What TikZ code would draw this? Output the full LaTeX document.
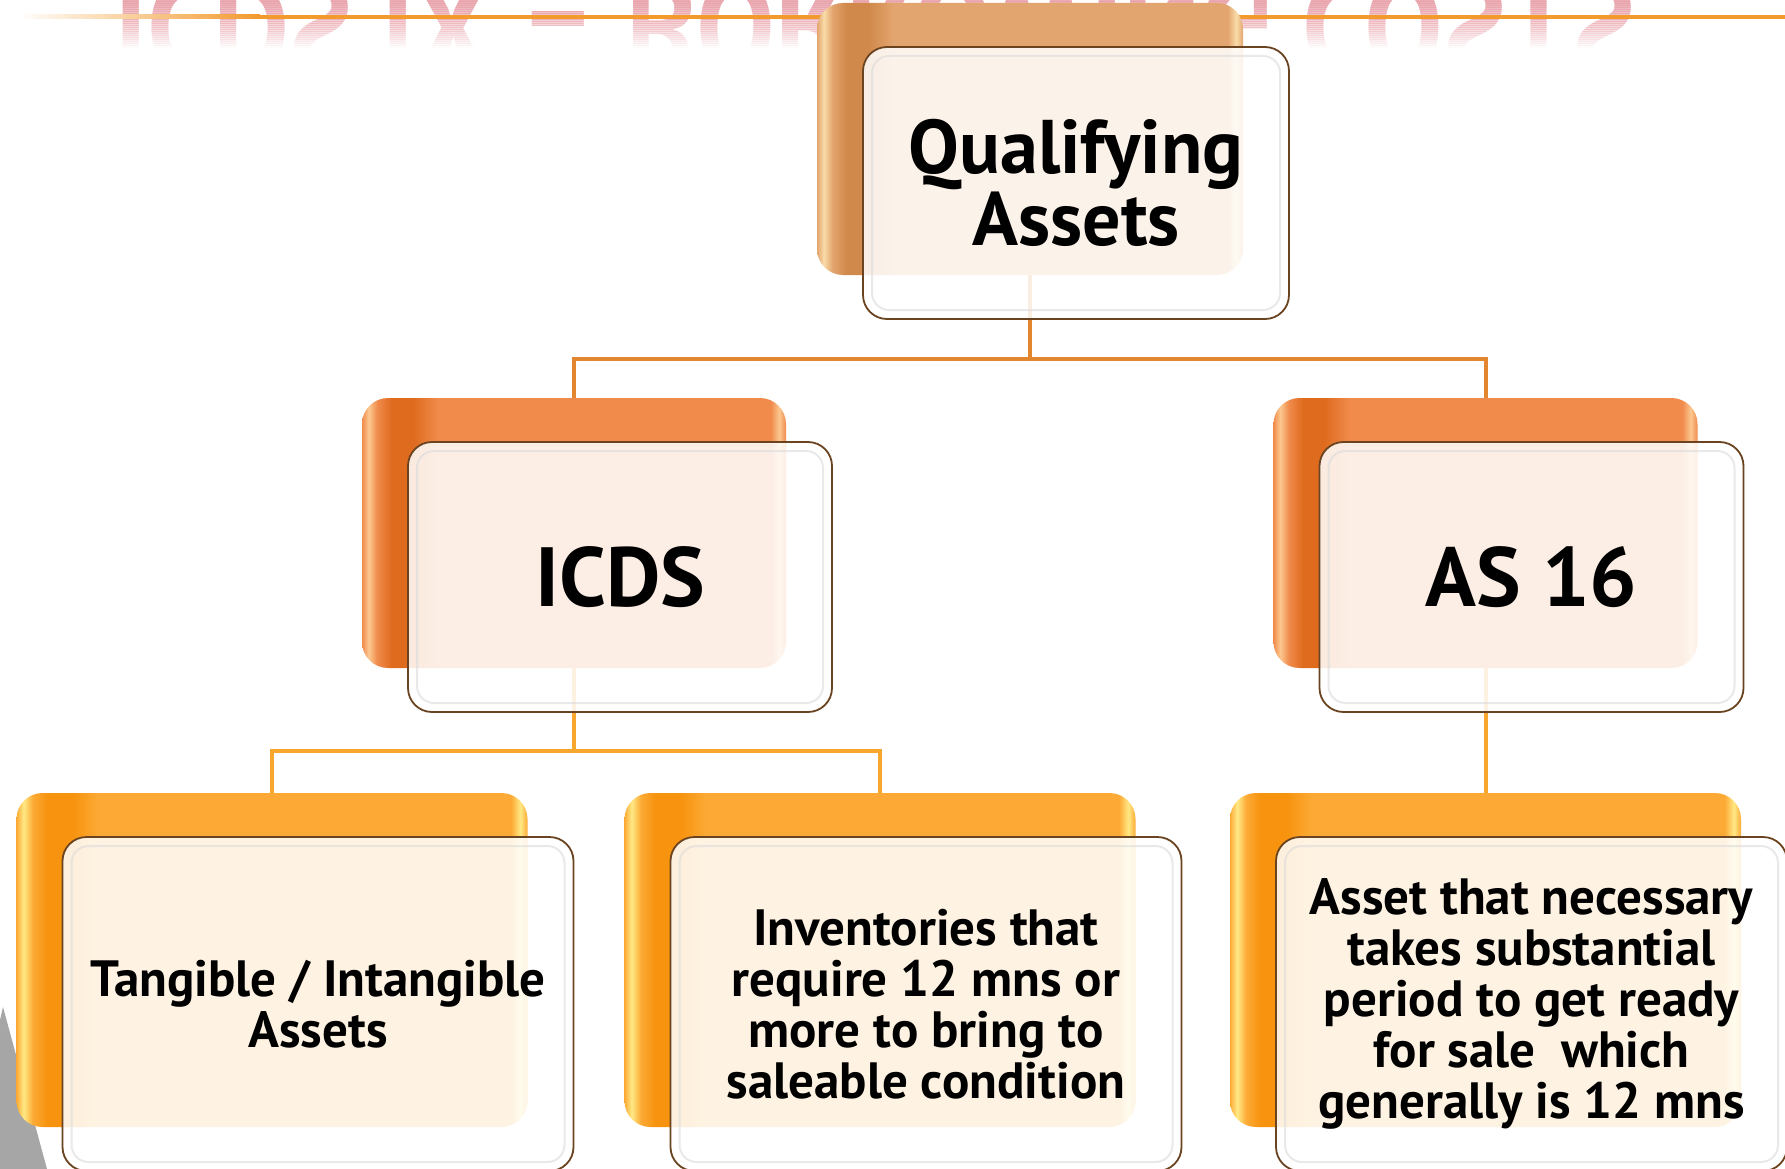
\documentclass[tikz,border=0pt]{standalone}
\usepackage{fontspec}
\setmainfont{PT Sans}
\newfontfamily\titlefont{PT Sans}[FakeStretch=0.905]
\usetikzlibrary{calc}

\definecolor{tanB}{HTML}{E3A56F}
\definecolor{tanD}{HTML}{D0894A}
\definecolor{tanH}{HTML}{F9DCA8}
\definecolor{oraB}{HTML}{F08B4C}
\definecolor{oraD}{HTML}{DE6B1E}
\definecolor{oraH}{HTML}{FCC890}
\definecolor{yelB}{HTML}{FCAA35}
\definecolor{yelD}{HTML}{F7930F}
\definecolor{yelH}{HTML}{FFE985}
\definecolor{conA}{HTML}{E2862F}
\definecolor{conB}{HTML}{F7A62E}
\definecolor{hdr}{HTML}{F29A2C}
\definecolor{frameline}{HTML}{6A4420}
\definecolor{refl}{HTML}{E9A2AA}
\definecolor{wedge}{HTML}{A6A6A6}

\pgfdeclarehorizontalshading{tanshade}{100bp}{color(0bp)=(tanB); color(25bp)=(tanB); color(25.8bp)=(tanH); color(26.8bp)=(tanB); color(28.5bp)=(tanD); color(31bp)=(tanD); color(34bp)=(tanB); color(73.2bp)=(tanB); color(74.2bp)=(tanH); color(75bp)=(tanB); color(100bp)=(tanB)}
\pgfdeclarehorizontalshading{orashade}{100bp}{color(0bp)=(oraB); color(25bp)=(oraB); color(25.8bp)=(oraH); color(26.8bp)=(oraB); color(28.5bp)=(oraD); color(31bp)=(oraD); color(34bp)=(oraB); color(73.2bp)=(oraB); color(74.2bp)=(oraH); color(75bp)=(oraB); color(100bp)=(oraB)}
\pgfdeclarehorizontalshading{yelshade}{100bp}{color(0bp)=(yelB); color(25bp)=(yelB); color(25.7bp)=(yelH); color(26.6bp)=(yelB); color(28bp)=(yelD); color(30.5bp)=(yelD); color(33bp)=(yelB); color(73.4bp)=(yelB); color(74.3bp)=(yelH); color(75bp)=(yelB); color(100bp)=(yelB)}

\pgfdeclarelayer{bg}
\pgfsetlayers{bg,main}

\newcommand\orgunit[8]{%
  \node[backbox, shading=#6, minimum width=#4, minimum height=#5] (#1B) at (#2,#3) {};
  \node[frontbox, #7, minimum width=#4, minimum height=#5] (#1F) at ($(#1B.center)+(46,44)$) {#8};
  \draw[innerglow] ($(#1F.north west)+(9,9)$) rectangle ($(#1F.south east)+(-9,-9)$);
}

\begin{document}
\begin{tikzpicture}[x=1pt,y=-1pt,
  backbox/.style={rectangle, rounded corners=26pt, inner sep=0pt, outer sep=0pt, shade},
  frontbox/.style={rectangle, rounded corners=24pt, inner sep=0pt, outer sep=0pt, draw=frameline, line width=1.8pt, fill=white, fill opacity=0.86, text opacity=1, text=black, align=center},
  innerglow/.style={draw=black!14, line width=2pt, rounded corners=17pt, opacity=0.6},
  connA/.style={draw=conA, line width=4pt},
  connB/.style={draw=conB, line width=4pt},
  titlestyle/.style={anchor=base west, inner sep=0pt, text=refl, font=\titlefont\bfseries\fontsize{130}{130}\selectfont},
  qafont/.style={font=\bfseries\fontsize{76}{72}\selectfont},
  midfont/.style={font=\bfseries\fontsize{84}{84}\selectfont},
  botfont/.style={font=\bfseries\fontsize{51}{51}\selectfont}
]
\useasboundingbox (0,0) rectangle (1785,1169);

\begin{pgfonlayer}{bg}
  \fill[white] (0,0) rectangle (1785,1169);
  % reflected title, fading downwards
  \foreach \i in {0,...,23} {
    \pgfmathsetmacro{\op}{0.9*(1-\i/24)}
    \begin{scope}
      \clip (0,{\i*2}) rectangle (1785,{\i*2+2});
      \node[titlestyle, opacity=\op] (title\i) at (114,-18) {\scalebox{1}[-1]{ICDS IX – BORROWING COSTS}};
    \end{scope}
  }
  % header rule
  \shade[left color=white, right color=hdr] (18,15) rectangle (260,19);
  \fill[hdr] (259,15) rectangle (1785,19);
  % grey wedge
  \fill[wedge] (3,1007) -- (47,1169) -- (0,1169) -- (0,1020) -- cycle;
\end{pgfonlayer}

\orgunit{qa}{1030}{139}{426pt}{272pt}{tanshade}{qafont}{Qualifying\\Assets}
\orgunit{ic}{574}{533}{424pt}{270pt}{orashade}{midfont}{ICDS}
\orgunit{as}{1485.5}{533}{424pt}{270pt}{orashade}{midfont}{AS 16}
\orgunit{bl}{272}{960}{511pt}{334pt}{yelshade}{botfont}{Tangible / Intangible\\Assets}
\orgunit{bm}{880}{960}{511pt}{334pt}{yelshade}{botfont}{Inventories that\\require 12 mns or\\more to bring to\\saleable condition}
\orgunit{br}{1485.5}{960}{511pt}{334pt}{yelshade}{botfont}{Asset that necessary\\takes substantial\\period to get ready\\for sale~ which\\generally is 12 mns}

\begin{pgfonlayer}{bg}
  \draw[connA] (qaB.south) -- ++(0,84) -| (icB.north);
  \draw[connA] (qaB.south) ++(0,84) -| (asB.north);
  \draw[connB] (icB.south) -- ++(0,83) -| (blB.north);
  \draw[connB] (icB.south) ++(0,83) -| (bmB.north);
  \draw[connB] (asB.south) -- (brB.north);
\end{pgfonlayer}
\end{tikzpicture}
\end{document}
